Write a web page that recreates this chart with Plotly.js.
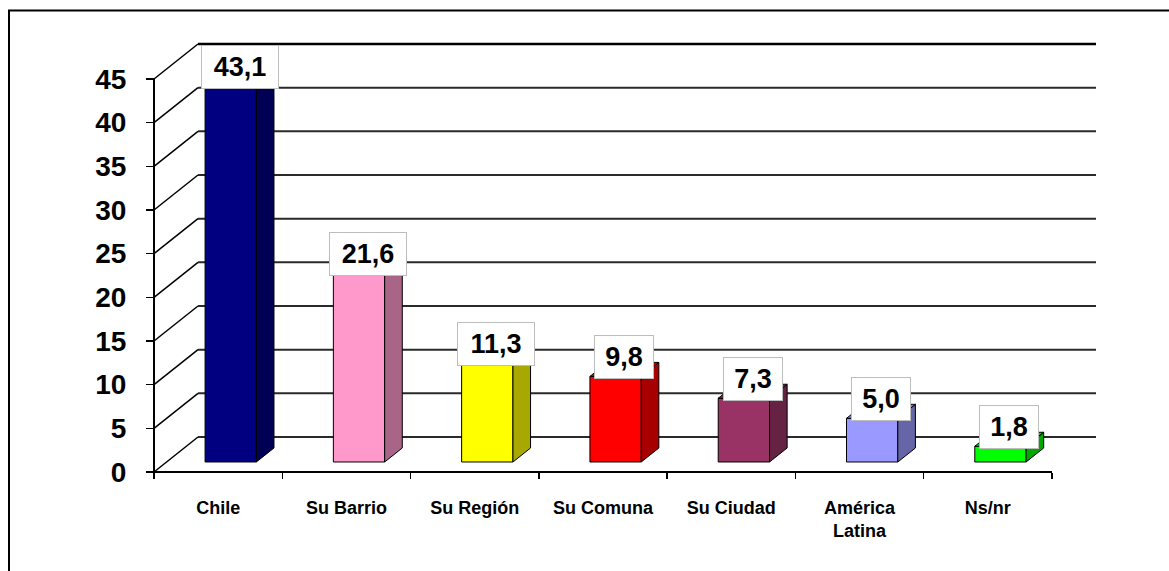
<!DOCTYPE html>
<html>
<head>
<meta charset="utf-8">
<script src="https://cdn.plot.ly/plotly-3.0.1.min.js"></script>
<style>
  html, body { margin: 0; padding: 0; background: #ffffff; }
  #chart { width: 1169px; height: 571px; }
</style>
</head>
<body>
<div id="chart"></div>
<script>
// ---- data ----
var categories = ['Chile', 'Su Barrio', 'Su Región', 'Su Comuna', 'Su Ciudad', 'América<br>Latina', 'Ns/nr'];
var values = [43.1, 21.6, 11.3, 9.8, 7.3, 5.0, 1.8];
var barColors = ['#000080', '#FF99CC', '#FFFF00', '#FF0000', '#993366', '#9999FF', '#00FF00'];
var yTicks = [0, 5, 10, 15, 20, 25, 30, 35, 40, 45];

// ---- geometry of the pseudo-3D frame (styling) ----
var W = 1169, H = 571;
var mL = 140, mR = 59, mT = 30, mB = 91;
var plotW = W - mL - mR, plotH = H - mT - mB;
var x0px = 154, catPx = 128.286;      // x=0 pixel, pixels per category
var y0px = 472, unitPx = 8.7333;      // y=0 pixel, pixels per y unit
var xRange = [-(x0px - mL) / catPx, (W - mR - x0px) / catPx];
var yRange = [-((H - mB) - y0px) / unitPx, (y0px - mT) / unitPx];
var DX = 44 / catPx, DY = 35 / unitPx;  // depth offset in data units
var f0 = 0.286, depth = 0.4, barW = 0.4;
var yMax = 45;
var nCat = categories.length;

function shade(hex, k) {
  var r = parseInt(hex.substr(1, 2), 16), g = parseInt(hex.substr(3, 2), 16), b = parseInt(hex.substr(5, 2), 16);
  return 'rgb(' + Math.round(r * k) + ',' + Math.round(g * k) + ',' + Math.round(b * k) + ')';
}

var centers = categories.map(function (c, i) { return i + 0.5; });

var traces = [];
// front faces
traces.push({
  type: 'bar',
  x: centers.map(function (c) { return c + f0 * DX; }),
  y: values,
  base: values.map(function () { return f0 * DY; }),
  width: values.map(function () { return barW; }),
  marker: { color: barColors, line: { color: '#000000', width: 1 } },
  hoverinfo: 'skip', showlegend: false
});
// side and top faces
values.forEach(function (v, i) {
  var xl = centers[i] - barW / 2 + f0 * DX, xr = centers[i] + barW / 2 + f0 * DX;
  var yb = f0 * DY, yt = v + f0 * DY;
  var ddx = depth * DX, ddy = depth * DY;
  traces.push({
    type: 'scatter', mode: 'lines', fill: 'toself',
    x: [xr, xr + ddx, xr + ddx, xr, xr],
    y: [yb, yb + ddy, yt + ddy, yt, yb],
    fillcolor: shade(barColors[i], 0.66),
    line: { color: '#000000', width: 1 },
    hoverinfo: 'skip', showlegend: false
  });
  traces.push({
    type: 'scatter', mode: 'lines', fill: 'toself',
    x: [xl, xr, xr + ddx, xl + ddx, xl],
    y: [yt, yt, yt + ddy, yt + ddy, yt],
    fillcolor: shade(barColors[i], 0.82),
    line: { color: '#000000', width: 1 },
    hoverinfo: 'skip', showlegend: false
  });
});

// ---- frame shapes ----
var shapes = [];
yTicks.forEach(function (t) {
  // back wall gridline
  shapes.push({ type: 'line', xref: 'x', yref: 'y', layer: 'below',
    x0: DX, x1: nCat + DX, y0: t + DY, y1: t + DY,
    line: { color: t === yMax ? '#000000' : '#2a2a2a', width: t === yMax ? 2.5 : 2 } });
  // side wall diagonal
  shapes.push({ type: 'line', xref: 'x', yref: 'y', layer: 'below',
    x0: 0, x1: DX, y0: t, y1: t + DY,
    line: { color: '#000000', width: 1.5 } });
});
// front y axis line
shapes.push({ type: 'line', xref: 'x', yref: 'y', layer: 'below',
  x0: 0, x1: 0, y0: 0, y1: yMax, line: { color: '#000000', width: 2 } });
// front x axis line
shapes.push({ type: 'line', xref: 'x', yref: 'y', layer: 'below',
  x0: 0, x1: nCat, y0: 0, y1: 0, line: { color: '#000000', width: 2 } });
// outer chart border
shapes.push({ type: 'rect', xref: 'paper', yref: 'paper',
  x0: (9 - mL) / plotW, x1: (W + 20 - mL) / plotW,
  y0: -(H + 20 - (H - mB)) / plotH, y1: ((H - mB) - 10.5) / plotH,
  line: { color: '#000000', width: 2 }, fillcolor: 'rgba(0,0,0,0)' });

// ---- value labels ----
var annotations = values.map(function (v, i) {
  var txt = v.toFixed(1).replace('.', ',');
  return {
    x: centers[i] + f0 * DX + depth * DX / 2, y: v + f0 * DY,
    xref: 'x', yref: 'y', xanchor: 'center', yanchor: 'bottom', yshift: -3,
    text: txt, showarrow: false,
    font: { family: 'Liberation Sans, Arial, sans-serif', size: 27, color: '#000000', weight: 'bold' },
    bgcolor: '#ffffff', bordercolor: '#bdbdbd', borderwidth: 1, borderpad: 6,
    width: txt.length * 18 - 8
  };
});

var layout = {
  width: W, height: H,
  margin: { l: mL, r: mR, t: mT, b: mB },
  paper_bgcolor: '#ffffff', plot_bgcolor: '#ffffff',
  showlegend: false,
  barmode: 'overlay',
  xaxis: {
    range: xRange, fixedrange: true,
    anchor: 'free', position: ((H - mB) - y0px) / plotH,
    tickmode: 'array', tickvals: centers, ticktext: categories,
    ticks: '', showgrid: false, zeroline: false, showline: false,
    tickfont: { family: 'Liberation Sans, Arial, sans-serif', size: 18, color: '#000000', weight: 'bold' },
    ticklabelstandoff: 23,
    minor: { tickmode: 'linear', tick0: 0, dtick: 1, ticks: 'outside', ticklen: 6, tickwidth: 1.5, tickcolor: '#000000', showgrid: false }
  },
  yaxis: {
    range: yRange, fixedrange: true,
    anchor: 'free', position: (x0px - mL) / plotW,
    tickmode: 'array', tickvals: yTicks,
    ticks: 'outside', ticklen: 8, tickwidth: 1.5, tickcolor: '#000000',
    showgrid: false, zeroline: false, showline: false,
    tickfont: { family: 'Liberation Sans, Arial, sans-serif', size: 28, color: '#000000', weight: 'bold' },
    ticklabelstandoff: 14
  },
  shapes: shapes,
  annotations: annotations
};

Plotly.newPlot('chart', traces, layout, { displayModeBar: false, staticPlot: true });
</script>
</body>
</html>
